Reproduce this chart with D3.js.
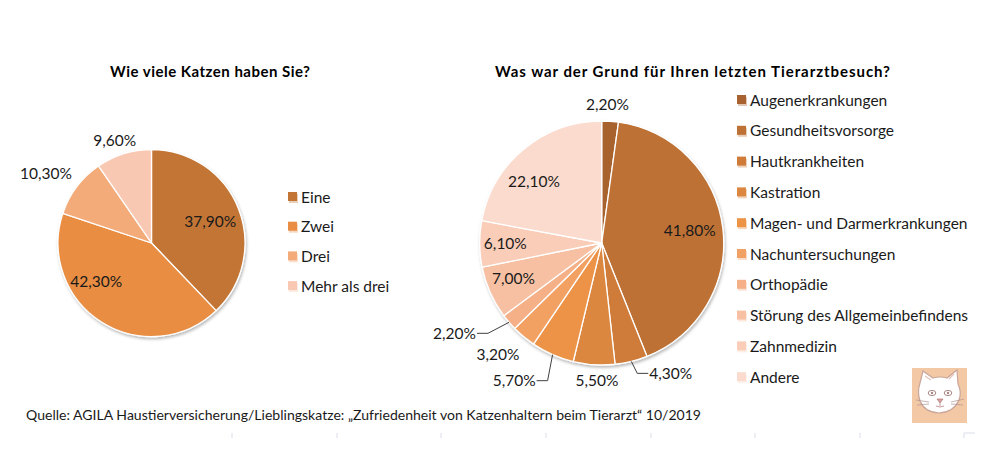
<!DOCTYPE html>
<html><head><meta charset="utf-8">
<script src="https://cdn.jsdelivr.net/npm/d3@7/dist/d3.min.js"></script>
<style>
html,body{margin:0;padding:0;background:#fff;}
svg{display:block;font-family:Lato,"Open Sans",sans-serif;}
</style></head>
<body>
<svg id="chart" width="997" height="453"></svg>
<script>
// ---- data ----
const catsTitle = "Wie viele Katzen haben Sie?";
const catsCategories = ["Eine", "Zwei", "Drei", "Mehr als drei"];
const catsValues = [37.9, 42.3, 10.3, 9.6];
const catsColors = ["#C37535", "#E88D43", "#F4AB7A", "#F9C8B3"];

const reasonTitle = "Was war der Grund für Ihren letzten Tierarztbesuch?";
const reasonCategories = ["Augenerkrankungen", "Gesundheitsvorsorge", "Hautkrankheiten", "Kastration",
  "Magen- und Darmerkrankungen", "Nachuntersuchungen", "Orthopädie", "Störung des Allgemeinbefindens",
  "Zahnmedizin", "Andere"];
const reasonValues = [2.2, 41.8, 4.3, 5.5, 5.7, 3.2, 2.2, 7.0, 6.1, 22.1];
const reasonColors = ["#A8622F", "#BD7134", "#CF7C3A", "#DB8740", "#EC9346", "#F2A164",
  "#F5B087", "#F7C0A3", "#F9CDB8", "#FADBCD"];

const sourceText = "Quelle: AGILA Haustierversicherung/Lieblingskatze: „Zufriedenheit von Katzenhaltern beim Tierarzt“ 10/2019";

// label style per slice: radius (relative to pie radius), position in slice (0..1), leader type
const catsLabelStyle = [
  {r: 0.67, f: 0.51}, {r: 0.72, f: 0.65}, {r: 1.35, f: 0.40}, {r: 1.17, f: 0.43}
];
const reasonLabelStyle = [
  {r: 1.14, f: 0.3}, {r: 0.73, f: 0.49}, {r: 1.0, f: 0.5, leader: "right"}, {r: 1.13, f: 0.42},
  {r: 1.0, f: 0.5, leader: "left-down"}, {r: 1.25, f: 0.77}, {r: 1.0, f: 0.5, leader: "left"},
  {r: 0.78, f: 0.58}, {r: 0.79, f: 0.5}, {r: 0.75, f: 0.4}
];

const fmt = v => d3.format(".2f")(v).replace(".", ",") + "%";

const svg = d3.select("#chart");
const defs = svg.append("defs");
const flt = defs.append("filter").attr("id", "shadow").attr("x", "-20%").attr("y", "-20%").attr("width", "140%").attr("height", "140%");
flt.append("feDropShadow").attr("dx", 1).attr("dy", 2).attr("stdDeviation", 1.6)
  .attr("flood-color", "#000").attr("flood-opacity", 0.28);

function drawPie(cfg) {
  const g = svg.append("g").attr("transform", `translate(${cfg.cx},${cfg.cy})`);
  const pie = d3.pie().sort(null).value(d => d)(cfg.values);
  const arc = d3.arc().innerRadius(0).outerRadius(cfg.r);
  g.append("g").attr("filter", "url(#shadow)")
    .selectAll("path").data(pie).join("path")
    .attr("d", arc).attr("fill", (d, i) => cfg.colors[i])
    .attr("stroke", "#fff").attr("stroke-width", 1.3).attr("stroke-linejoin", "round");

  pie.forEach((d, i) => {
    const st = cfg.labelStyle[i];
    const a = d.startAngle + (d.endAngle - d.startAngle) * st.f;
    const sx = Math.sin(a), sy = -Math.cos(a);
    let x, y, anchor = "middle";
    if (st.leader) {
      const p0 = [sx * cfg.r, sy * cfg.r];
      let pts;
      if (st.leader === "right") {
        const p1 = [p0[0] + 6, p0[1] + 12];
        pts = [p0, p1, [p1[0] + 11, p1[1]]];
        x = p1[0] + 12; y = p1[1]; anchor = "start";
      } else if (st.leader === "left-down") {
        const p1 = [p0[0] - 5, p0[1] + 26];
        pts = [p0, p1, [p1[0] - 11, p1[1]]];
        x = p1[0] - 12; y = p1[1]; anchor = "end";
      } else {
        const p1 = [p0[0] - 21, p0[1] + 11];
        pts = [p0, p1, [p1[0] - 11, p1[1]]];
        x = p1[0] - 12; y = p1[1]; anchor = "end";
      }
      g.append("path").attr("d", d3.line()(pts)).attr("fill", "none")
        .attr("stroke", "#404040").attr("stroke-width", 1);
    } else {
      x = sx * cfg.r * st.r; y = sy * cfg.r * st.r;
    }
    g.append("text").attr("x", x).attr("y", y).attr("dy", "0.36em")
      .attr("text-anchor", anchor).attr("font-size", 15.5).attr("fill", "#1a1a1a")
      .text(fmt(cfg.values[i]));
  });

  svg.append("text").attr("x", cfg.titleX).attr("y", cfg.titleY)
    .attr("font-size", 15).attr("font-weight", 700)
    .attr("textLength", cfg.titleW).attr("lengthAdjust", "spacing")
    .attr("fill", "#000").text(cfg.title);

  const lg = svg.append("g").attr("transform", `translate(${cfg.legendX},${cfg.legendY})`);
  const rows = lg.selectAll("g").data(cfg.categories).join("g")
    .attr("transform", (d, i) => `translate(0,${i * cfg.legendStep})`);
  rows.append("rect").attr("x", -4).attr("y", -3).attr("width", 9).attr("height", 9)
    .attr("fill", (d, i) => cfg.colors[i]).attr("opacity", 0.35);
  rows.append("rect").attr("x", -5).attr("y", -5).attr("width", 9).attr("height", 9)
    .attr("fill", (d, i) => cfg.colors[i]);
  rows.append("text").attr("x", 8).attr("y", 0).attr("dy", "0.36em")
    .attr("font-size", 15.5).attr("fill", "#1a1a1a").text(d => d);
}

drawPie({cx: 151.5, cy: 243, r: 93.5, values: catsValues, colors: catsColors, categories: catsCategories,
  labelStyle: catsLabelStyle, title: catsTitle, titleX: 110, titleY: 77, titleW: 200,
  legendX: 293, legendY: 197, legendStep: 29.7});
drawPie({cx: 601.7, cy: 243, r: 122, values: reasonValues, colors: reasonColors, categories: reasonCategories,
  labelStyle: reasonLabelStyle, title: reasonTitle, titleX: 495, titleY: 77, titleW: 395,
  legendX: 742, legendY: 100, legendStep: 30.8});

// source line
svg.append("text").attr("x", 26).attr("y", 420).attr("font-size", 13.5)
  .attr("textLength", 675).attr("lengthAdjust", "spacingAndGlyphs")
  .attr("fill", "#1a1a1a").text(sourceText);

// faint tick marks along bottom
const tickXs = [232, 337, 441, 546, 651, 755, 860];
svg.selectAll("line.tk").data(tickXs).join("line").attr("class", "tk")
  .attr("x1", d => d).attr("x2", d => d).attr("y1", 433).attr("y2", 438)
  .attr("stroke", "#d8dde6").attr("stroke-width", 1);
svg.append("path").attr("d", "M964,438 V433 H975").attr("fill", "none").attr("stroke", "#d8dde6");

// cat logo
const cat = svg.append("g").attr("transform", "translate(912,368)");
cat.append("rect").attr("width", 55).attr("height", 55).attr("fill", "#F3C8A5");
cat.append("path")
  .attr("d", "M8,15 L11,3 L21,10 Q28,8 35,10 L45,2 L46,16 Q50,24 47,32 Q42,44 27,45 Q12,44 8,33 Q5,24 8,15 Z")
  .attr("fill", "#fff").attr("stroke", "#c9a59a").attr("stroke-width", 1.2);
cat.append("path").attr("d", "M13,8 L19,12 M42,6 L37,11").attr("stroke", "#e4c3b8").attr("stroke-width", 1.2);
cat.selectAll("ellipse").data([[20, 25], [36, 25]]).join("ellipse")
  .attr("cx", d => d[0]).attr("cy", d => d[1]).attr("rx", 3.8).attr("ry", 2.6)
  .attr("fill", "#fff").attr("stroke", "#a88a86").attr("stroke-width", 1);
cat.selectAll("circle").data([[20, 25], [36, 25]]).join("circle")
  .attr("cx", d => d[0]).attr("cy", d => d[1]).attr("r", 1.2).attr("fill", "#a88a86");
cat.append("path").attr("d", "M25,31 L31,31 L28,35 Z").attr("fill", "#d9a0a0").attr("stroke", "#b88080").attr("stroke-width", 0.8);
cat.append("path").attr("d", "M28,35 V38 M24,38 Q28,40 32,38").attr("fill", "none").attr("stroke", "#b88080").attr("stroke-width", 0.8);
cat.append("path").attr("d", "M4,32 L17,34 M5,37 L17,36 M52,31 L39,34 M51,37 L39,36")
  .attr("stroke", "#b09490").attr("stroke-width", 0.7);
</script>
</body></html>
